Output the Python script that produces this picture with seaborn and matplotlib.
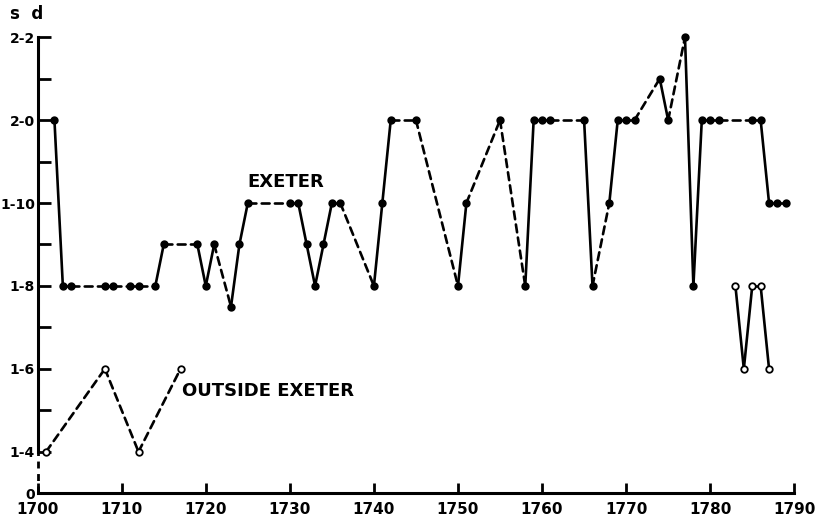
import matplotlib
matplotlib.use("Agg")
import matplotlib.pyplot as plt
import seaborn as sns

# prices in pence (2-0 = 24d, 1-8 = 20d ...)
exeter_years = [1702, 1703, 1704, 1708, 1709, 1711, 1712, 1714, 1715, 1719,
                1720, 1721, 1723, 1724, 1725, 1730, 1731, 1732, 1733, 1734,
                1735, 1736, 1740, 1741, 1742, 1745, 1750, 1751, 1755, 1758,
                1759, 1760, 1761, 1765, 1766, 1768, 1769, 1770, 1771, 1774,
                1775, 1777, 1778, 1779, 1780, 1781, 1785, 1786, 1787, 1788,
                1789]
exeter_pence = [24, 20, 20, 20, 20, 20, 20, 20, 21, 21,
                20, 21, 19.5, 21, 22, 22, 22, 21, 20, 21,
                22, 22, 20, 22, 24, 24, 20, 22, 24, 20,
                24, 24, 24, 24, 20, 22, 24, 24, 24, 25,
                24, 26, 20, 24, 24, 24, 24, 24, 22, 22,
                22]

outside_years = [1701, 1708, 1712, 1717, 1783, 1784, 1785, 1786, 1787]
outside_pence = [16, 18, 16, 18, 20, 18, 20, 20, 18]

ytick_pos = [15, 16, 18, 20, 22, 24, 26]
ytick_labels = ["0", "1-4", "1-6", "1-8", "1-10", "2-0", "2-2"]
yminor_pos = [17, 19, 21, 23, 25]
xtick_pos = [1700, 1710, 1720, 1730, 1740, 1750, 1760, 1770, 1780, 1790]

sns.set_style("ticks")
plt.rcParams['font.family'] = ['DejaVu Sans']
plt.rcParams['text.color'] = 'black'
plt.rcParams['xtick.color'] = 'black'
plt.rcParams['ytick.color'] = 'black'
plt.rcParams['axes.edgecolor'] = 'black'

fig = plt.figure(figsize=(8.18, 5.17), dpi=100)
ax = fig.add_axes([0.046, 0.046, 0.925, 0.882])


def draw_series(years, vals, face):
    # solid line between consecutive years, dashed across gaps
    for i in range(len(years) - 1):
        gap = years[i + 1] - years[i]
        if gap > 20:
            continue
        ls = '-' if gap == 1 else (0, (3, 2))
        ax.plot(years[i:i + 2], vals[i:i + 2], color='black', lw=1.9,
                ls=ls, solid_capstyle='round', dash_capstyle='round',
                clip_on=False)
    sns.scatterplot(x=years, y=vals, ax=ax, color=face, edgecolor='black',
                    s=22, linewidth=1.3, zorder=3, legend=False, clip_on=False)


draw_series(exeter_years, exeter_pence, 'black')
draw_series(outside_years, outside_pence, 'white')

ax.set_xlim(1700, 1790)
ax.set_ylim(15, 26)

# broken axis between 0 and 1-4
ax.spines['left'].set_bounds(16, 26)
ax.plot([1700, 1700], [15, 16], color='black', lw=2, ls=(0, (2.5, 2)),
        clip_on=False)
for s in ['top', 'right']:
    ax.spines[s].set_visible(False)
ax.spines['left'].set_linewidth(2.2)
ax.spines['bottom'].set_linewidth(2.2)

ax.set_yticks(ytick_pos)
ax.set_yticklabels(ytick_labels, fontsize=10, fontweight='bold')
ax.set_yticks(yminor_pos, minor=True)
ax.set_xticks(xtick_pos)
ax.set_xticklabels([str(x) for x in xtick_pos], fontsize=11, fontweight='bold')
ax.tick_params(axis='y', which='both', direction='in', length=9, width=2, pad=2)
ax.tick_params(axis='x', direction='in', length=7, width=2, pad=6)
ax.yaxis.get_major_ticks()[0].tick1line.set_visible(False)

ax.text(1725, 22.5, "EXETER", fontsize=13, fontweight='bold', va='center')
ax.text(1717.2, 17.47, "OUTSIDE EXETER", fontsize=13, fontweight='bold',
        va='center')
fig.text(0.012, 0.972, "s  d", fontsize=12, fontweight='bold', va='center')

fig.savefig("out.png", dpi=100)
